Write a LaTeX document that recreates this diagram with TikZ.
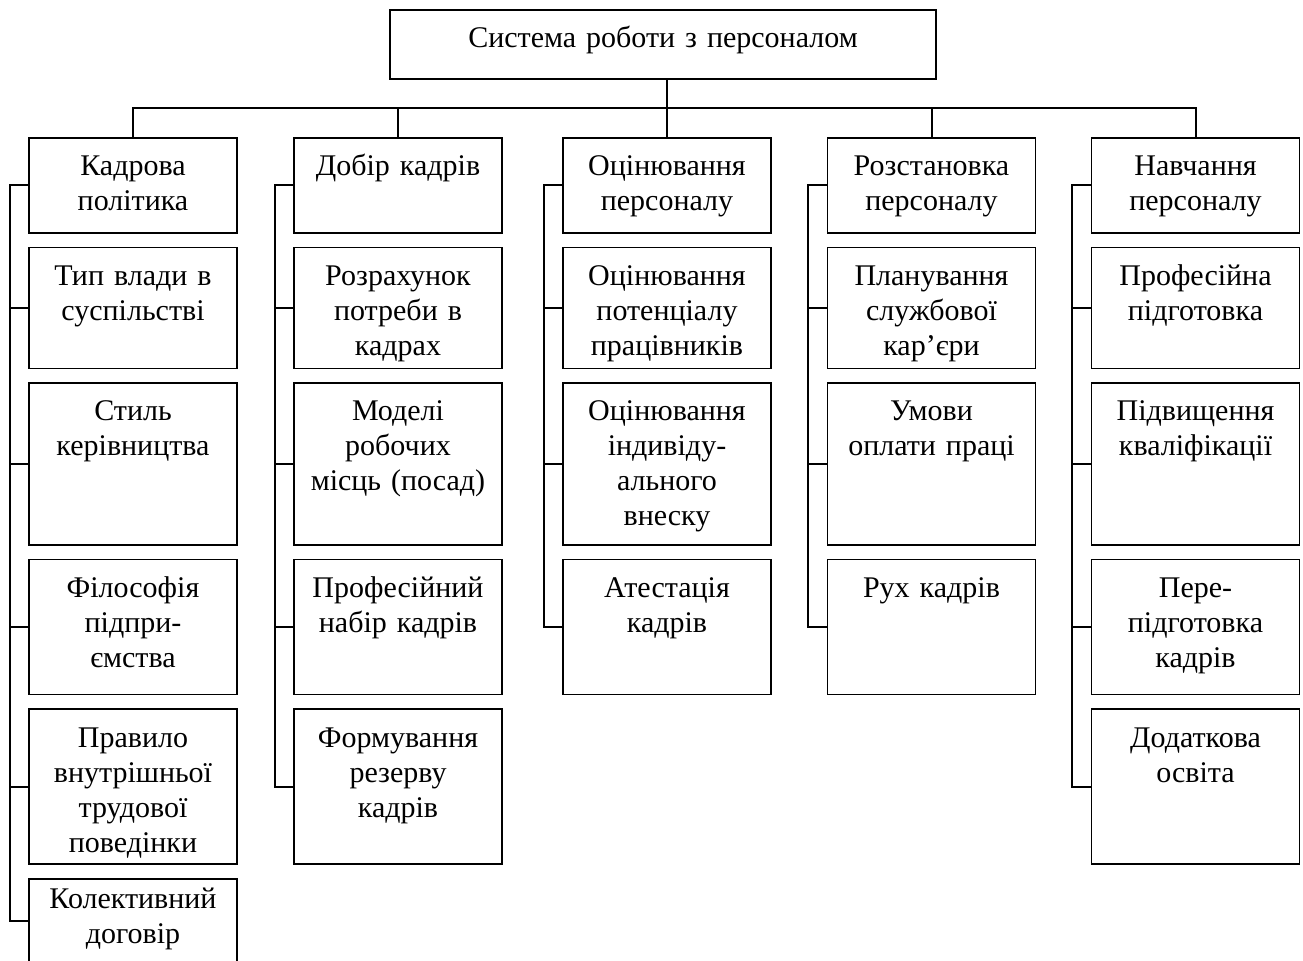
\documentclass[tikz,border=0pt]{standalone}
\usepackage{fontspec}
\setmainfont{Liberation Serif}
\usetikzlibrary{positioning}

\begin{document}
\begin{tikzpicture}[x=0.5pt,y=-0.5pt,node distance=6.5pt,
  blk/.style={draw,line width=0.8pt,anchor=north,align=center,text width=96pt,
    inner xsep=4pt,inner ysep=8pt,text height=11pt,font=\fontsize{15}{17.5}\selectfont},
  ln/.style={line width=1pt},
  hA/.style={text depth=20.5pt},
  hB/.style={text depth=33.5pt},
  hC/.style={text depth=54pt},
  hD/.style={text depth=40.5pt},
  hE/.style={text depth=50.5pt},
  hF/.style={inner ysep=4pt,text depth=23pt}]
\useasboundingbox (0,0) rectangle (1303,961);

\node[blk,text width=265pt,text depth=7.5pt] (sys) at (663,9) {Система роботи з персоналом};

% кадрова політика
\node[blk,hA] (k1) at (133,137) {Кадрова\\політика};
\node[blk,hB,below=of k1] (k2) {Тип влади в\\суспільстві};
\node[blk,hC,below=of k2] (k3) {Стиль\\керівництва};
\node[blk,hD,below=of k3] (k4) {Філософія\\підпри-\\ємства};
\node[blk,hE,below=of k4] (k5) {Правило\\внутрішньої\\трудової\\поведінки};
\node[blk,hF,below=of k5] (k6) {Колективний\\договір};

% добір кадрів
\node[blk,hA] (d1) at (398,137) {Добір кадрів};
\node[blk,hB,below=of d1] (d2) {Розрахунок\\потреби в\\кадрах};
\node[blk,hC,below=of d2] (d3) {Моделі\\робочих\\місць (посад)};
\node[blk,hD,below=of d3] (d4) {Професійний\\набір кадрів};
\node[blk,hE,below=of d4] (d5) {Формування\\резерву\\кадрів};

% оцінювання
\node[blk,hA] (o1) at (667,137) {Оцінювання\\персоналу};
\node[blk,hB,below=of o1] (o2) {Оцінювання\\потенціалу\\працівників};
\node[blk,hC,below=of o2] (o3) {Оцінювання\\індивіду-\\ального\\внеску};
\node[blk,hD,below=of o3] (o4) {Атестація\\кадрів};

% розстановка
\node[blk,hA] (r1) at (931.5,137) {Розстановка\\персоналу};
\node[blk,hB,below=of r1] (r2) {Планування\\службової\\кар’єри};
\node[blk,hC,below=of r2] (r3) {Умови\\оплати праці};
\node[blk,hD,below=of r3] (r4) {Рух кадрів};

% навчання
\node[blk,hA] (n1) at (1195.5,137) {Навчання\\персоналу};
\node[blk,hB,below=of n1] (n2) {Професійна\\підготовка};
\node[blk,hC,below=of n2] (n3) {Підвищення\\кваліфікації};
\node[blk,hD,below=of n3] (n4) {Пере-\\підготовка\\кадрів};
\node[blk,hE,below=of n4] (n5) {Додаткова\\освіта};

\coordinate (hub) at (667,108);
\draw[ln] (hub |- sys.south) -- (hub);
\draw[ln] (k1.north) -- (k1.north |- hub) -- (n1.north |- hub) -- (n1.north);
\foreach \c in {d1,o1,r1} \draw[ln] (\c.north) -- (\c.north |- hub);

\foreach \c/\m in {k/6,d/5,o/4,r/4,n/5}{
  \draw[ln] (\c1.west) -- ++(-18.5,0) |- (\c\m.west);
  \foreach \i in {2,...,\m} \draw[ln] (\c\i.west) -- ++(-18.5,0);
}
\end{tikzpicture}
\end{document}
